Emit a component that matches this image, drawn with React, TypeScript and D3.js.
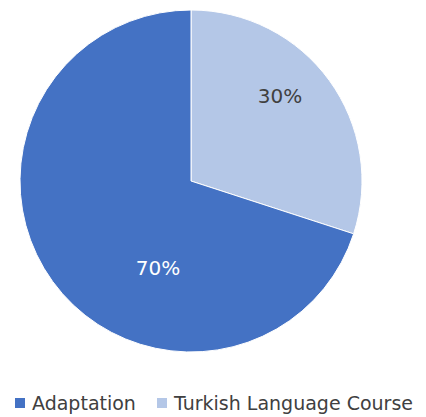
import React from "react";
import * as d3 from "d3";

const categories = ["Turkish Language Course", "Adaptation"];
const values = [30, 70];
const colors = ["#B4C7E7", "#4472C4"];
const labelColors = ["#404040", "#FFFFFF"];
const legendOrder = ["Adaptation", "Turkish Language Course"];
// label offsets from pie center, in px
const labelOffsets: [number, number][] = [[89, -85], [-33, 87]];

export default function App() {
  const W = 426, H = 417;
  const cx = 191, cy = 181, r = 171;
  const pie = d3.pie<number>().sort(null).value((d) => d);
  const arcs = pie(values);
  const arc = d3.arc<d3.PieArcDatum<number>>().innerRadius(0).outerRadius(r);
  const font = "'DejaVu Sans', sans-serif";
  const legendX = [15, 157];
  return (
    <svg width={W} height={H} style={{ position: "absolute", left: 0, top: 0 }}>
      <rect width={W} height={H} fill="#fff" />
      <g transform={`translate(${cx},${cy})`}>
        {arcs.map((a, i) => (
          <path key={i} d={arc(a) || ""} fill={colors[i]} stroke="#fff" strokeWidth={1} />
        ))}
        {arcs.map((a, i) => (
          <text key={"l" + i} x={labelOffsets[i][0]} y={labelOffsets[i][1]} fill={labelColors[i]}
            fontSize={20} fontFamily={font} textAnchor="middle" dominantBaseline="central">
            {values[i]}%
          </text>
        ))}
      </g>
      {legendOrder.map((name, i) => {
        const idx = categories.indexOf(name);
        return (
          <g key={name} transform={`translate(${legendX[i]},0)`}>
            <rect x={0} y={398} width={10} height={10} fill={colors[idx]} />
            <text x={17} y={410} fontSize={19} fontFamily={font} fill="#404040">{name}</text>
          </g>
        );
      })}
    </svg>
  );
}
